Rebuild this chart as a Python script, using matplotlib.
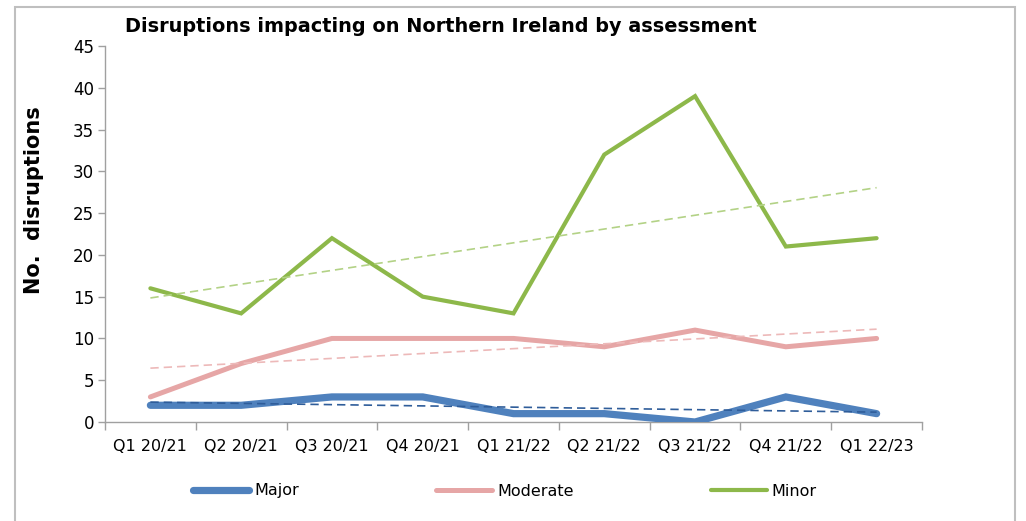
import numpy as np
import matplotlib
matplotlib.use("Agg")
import matplotlib.pyplot as plt
from matplotlib.patches import Rectangle

quarters = ["Q1 20/21", "Q2 20/21", "Q3 20/21", "Q4 20/21", "Q1 21/22",
            "Q2 21/22", "Q3 21/22", "Q4 21/22", "Q1 22/23"]
major = [2, 2, 3, 3, 1, 1, 0, 3, 1]
moderate = [3, 7, 10, 10, 10, 9, 11, 9, 10]
minor = [16, 13, 22, 15, 13, 32, 39, 21, 22]

plt.rcParams['font.family'] = ['DejaVu Sans']

fig = plt.figure(figsize=(10.26, 5.21), dpi=100)
ax = fig.add_axes([105 / 1026, 1 - 422 / 521, 817 / 1026, 376 / 521])

x = np.arange(1, len(quarters) + 1)

series = [
    ("Major", major, "#4F81BD", 5.2, "#2F5D9A"),
    ("Moderate", moderate, "#E6A6A6", 3.6, "#EDB9B9"),
    ("Minor", minor, "#8DB84A", 3.0, "#B3D286"),
]

handles = []
for name, vals, col, lw, tcol in series:
    h, = ax.plot(x, vals, color=col, lw=lw, solid_capstyle='round',
                 solid_joinstyle='miter', label=name, zorder=3)
    handles.append(h)
    # linear trendline as in the source chart
    k, b = np.polyfit(x, vals, 1)
    ax.plot(x, k * x + b, color=tcol, lw=1.2, ls=(0, (5, 3)), zorder=4)

ax.set_xlim(0.5, 9.5)
ax.set_ylim(0, 45)
ax.set_yticks(range(0, 46, 5))
ax.set_xticks(x)
ax.set_xticklabels(quarters)
ax.set_xticks(np.arange(0.5, 9.6, 1), minor=True)
ax.tick_params(axis='x', which='major', length=0, pad=12, labelsize=11.5)
ax.tick_params(axis='x', which='minor', length=6, color='#A0A0A0', width=1)
ax.tick_params(axis='y', length=5, color='#A0A0A0', width=1, labelsize=12, pad=3)

for s in ['top', 'right']:
    ax.spines[s].set_visible(False)
for s in ['left', 'bottom']:
    ax.spines[s].set_color('#A0A0A0')
    ax.spines[s].set_linewidth(1)

ax.set_ylabel("No.  disruptions", fontsize=15, fontweight='bold')
ax.yaxis.set_label_coords(-0.075, 0.59)

fig.text(125 / 1026, 1 - 27 / 521, "Disruptions impacting on Northern Ireland by assessment",
         fontsize=13.9, fontweight='bold', va='center', ha='left')

fig.legend(handles=handles, loc='center', bbox_to_anchor=(505 / 1026, 1 - 491 / 521),
           ncol=3, frameon=False, fontsize=11.5, handlelength=3.5,
           columnspacing=8.6, handletextpad=0.3)

fig.patches.append(Rectangle((15 / 1026, -0.05), 1000 / 1026, 1.05 - 7 / 521,
                             transform=fig.transFigure, fill=False,
                             edgecolor='#BFBFBF', lw=1.5))

fig.savefig("out.png", dpi=100)
